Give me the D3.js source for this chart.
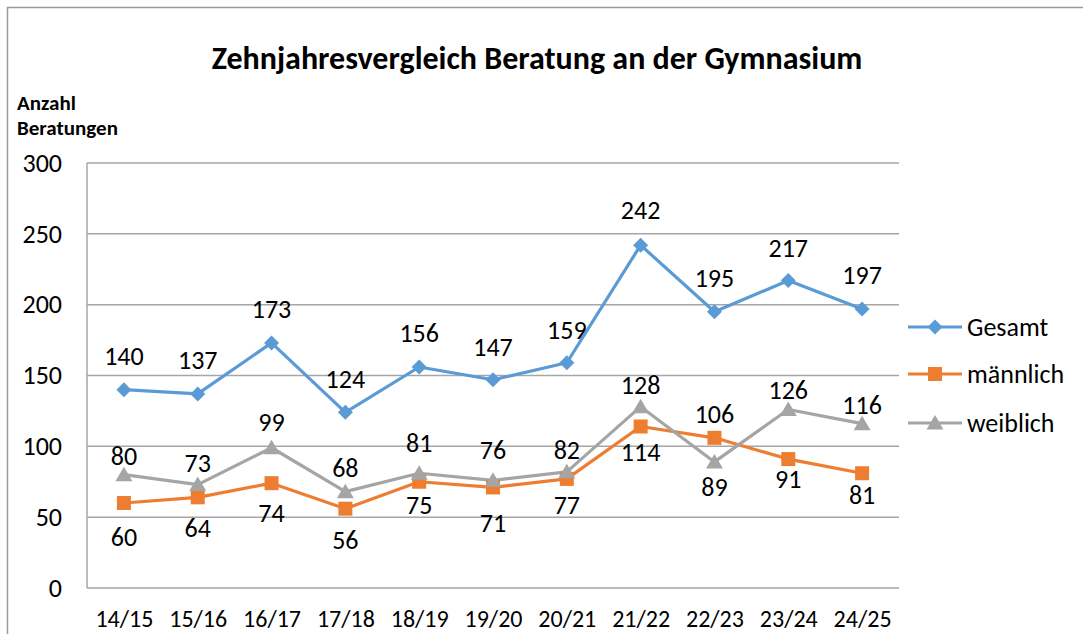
<!DOCTYPE html>
<html><head><meta charset="utf-8">
<script src="https://cdn.jsdelivr.net/npm/d3@7"></script>
<style>body{margin:0;background:#fff}svg{display:block;font-family:Carlito,Lato,"Open Sans",sans-serif}</style>
</head><body><svg id="c" width="1083" height="634"></svg>
<script>
const categories = ["14/15","15/16","16/17","17/18","18/19","19/20","20/21","21/22","22/23","23/24","24/25"];
const gesamt =   [140,137,173,124,156,147,159,242,195,217,197];
const maennlich = [60,64,74,56,75,71,77,114,106,91,81];
const weiblich = [80,73,99,68,81,76,82,128,89,126,116];
const yTicks = [0,50,100,150,200,250,300];

// data-label offsets (layout only, px from the point; negative = above)
const gesamtLabelDy =   [-34,-34,-34,-33,-34,-33,-33,-35,-34,-33,-34];
const maennlichLabelDy = [34,31,30,31,23,36,26,25,-24,20,22];
const weiblichLabelDy = [-19,-22,-26,-24,-30,-30,-22,-22,25,-20,-19];

const series = [
  {name:"Gesamt", values:gesamt, dy:gesamtLabelDy, color:"#5b9bd5", marker:"diamond"},
  {name:"männlich", values:maennlich, dy:maennlichLabelDy, color:"#ed7d31", marker:"square"},
  {name:"weiblich", values:weiblich, dy:weiblichLabelDy, color:"#a5a5a5", marker:"triangle"}
];

const svg = d3.select("#c");
svg.append("rect").attr("x",7.5).attr("y",7.5).attr("width",1090).attr("height",640)
  .attr("fill","none").attr("stroke","#9a9a9a").attr("stroke-width",1.5);

const L=87, R=899, T=163, B=588;
const x = d3.scalePoint().domain(categories).range([L,R]).padding(0.5);
const y = d3.scaleLinear().domain([0,300]).range([B,T]);

svg.append("g").selectAll("line").data(yTicks).join("line")
  .attr("x1",L).attr("x2",R).attr("y1",d=>y(d)).attr("y2",d=>y(d))
  .attr("stroke","#a6a6a6").attr("stroke-width",1.5);
svg.append("line").attr("x1",L).attr("x2",L).attr("y1",T).attr("y2",B)
  .attr("stroke","#a6a6a6").attr("stroke-width",1.5);

const yAxis = svg.append("g").attr("transform",`translate(${L},0)`)
  .call(d3.axisLeft(y).tickValues(yTicks).tickSize(0).tickPadding(25));
yAxis.select(".domain").remove();
yAxis.selectAll("text").attr("font-size",26).attr("fill","#000").attr("font-family","Carlito,Lato,sans-serif");

const xAxis = svg.append("g").attr("transform",`translate(0,${B})`)
  .call(d3.axisBottom(x).tickSize(0).tickPadding(22));
xAxis.select(".domain").remove();
xAxis.selectAll("text").attr("font-size",24).attr("fill","#000").attr("font-family","Carlito,Lato,sans-serif");

svg.append("text").attr("x",537).attr("y",69).attr("text-anchor","middle")
  .attr("font-size",32).attr("font-weight","bold").text("Zehnjahresvergleich Beratung an der Gymnasium");
svg.append("text").attr("x",17).attr("y",110).attr("font-size",21).attr("font-weight","bold").text("Anzahl");
svg.append("text").attr("x",17).attr("y",135).attr("font-size",21).attr("font-weight","bold").text("Beratungen");

function marker(g, type, color){
  if(type==="diamond") g.append("path").attr("d","M0,-7.5L7.5,0L0,7.5L-7.5,0Z").attr("fill",color);
  else if(type==="square") g.append("rect").attr("x",-7).attr("y",-7).attr("width",14).attr("height",14).attr("fill",color);
  else g.append("path").attr("d","M0,-8L8.5,6.5L-8.5,6.5Z").attr("fill",color);
}

const line = d3.line().x((d,i)=>x(categories[i])).y(d=>y(d));
series.forEach(s=>{
  svg.append("path").datum(s.values).attr("d",line).attr("fill","none")
    .attr("stroke",s.color).attr("stroke-width",3.2).attr("stroke-linejoin","round");
});
series.forEach(s=>{
  s.values.forEach((v,i)=>{
    const g = svg.append("g").attr("transform",`translate(${x(categories[i])},${y(v)})`);
    marker(g,s.marker,s.color);
  });
});
series.forEach(s=>{
  s.values.forEach((v,i)=>{
    svg.append("text").attr("x",x(categories[i])).attr("y",y(v)+s.dy[i])
      .attr("text-anchor","middle").attr("dominant-baseline","central")
      .attr("font-size",26).text(v);
  });
});

const legY = [327,374,423];
series.forEach((s,k)=>{
  svg.append("line").attr("x1",908).attr("x2",962).attr("y1",legY[k]).attr("y2",legY[k])
    .attr("stroke",s.color).attr("stroke-width",3.2);
  const g = svg.append("g").attr("transform",`translate(935,${legY[k]})`);
  marker(g,s.marker,s.color);
  svg.append("text").attr("x",967).attr("y",legY[k]).attr("dominant-baseline","central")
    .attr("font-size",26).text(s.name);
});
</script></body></html>
